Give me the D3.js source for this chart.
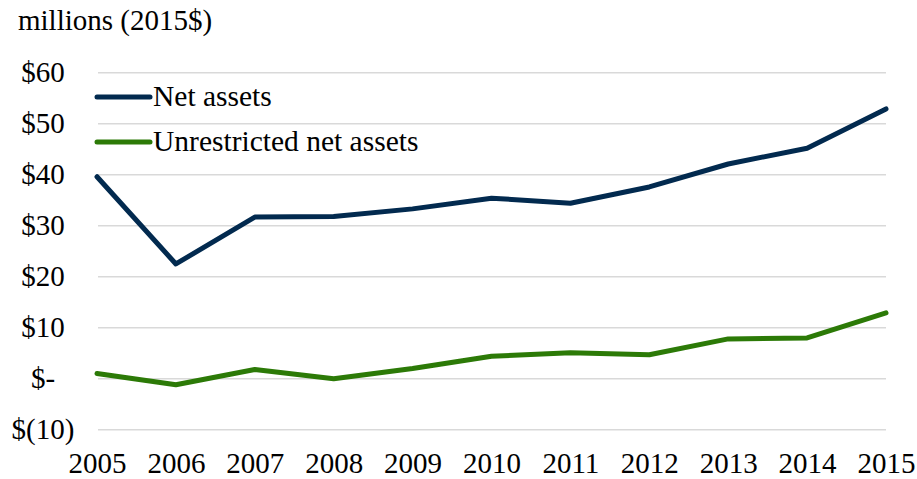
<!DOCTYPE html>
<html>
<head>
<meta charset="utf-8">
<script src="https://cdn.jsdelivr.net/npm/d3@7"></script>
<style>
  html, body { margin: 0; padding: 0; background: #fff; }
  svg { display: block; font-family: "Liberation Serif", "Times New Roman", serif; }
</style>
</head>
<body>
<svg id="chart" width="917" height="479"></svg>
<script>
// Net assets and unrestricted net assets, millions of 2015 dollars
const years = [2005, 2006, 2007, 2008, 2009, 2010, 2011, 2012, 2013, 2014, 2015];
const netAssets = [39.6, 22.5, 31.7, 31.8, 33.3, 35.4, 34.4, 37.6, 42.1, 45.2, 52.9];
const unrestricted = [1.0, -1.2, 1.8, 0.0, 2.0, 4.4, 5.1, 4.7, 7.8, 8.0, 12.9];
const yTicks = [-10, 0, 10, 20, 30, 40, 50, 60];
const seriesNames = ["Net assets", "Unrestricted net assets"];
const seriesColors = ["#022a4f", "#2c7a07"];
const unitLabel = "millions (2015$)";

const svg = d3.select("#chart");
const fontSize = 29;
const legendFontSize = 29.5;

const x = d3.scaleLinear().domain([2005, 2015]).range([97, 886]);
const y = d3.scaleLinear().domain([-10, 60]).range([429.7, 72.7]);

const fmt = v => v === 0 ? "$-" : (v < 0 ? "$(" + Math.abs(v) + ")" : "$" + v);

// horizontal gridlines
svg.append("g")
  .selectAll("line")
  .data(yTicks)
  .join("line")
  .attr("x1", 98).attr("x2", 886)
  .attr("y1", d => y(d)).attr("y2", d => y(d))
  .attr("stroke", "#d9d9d9")
  .attr("stroke-width", 1.5);

// y axis labels
const yAxis = d3.axisLeft(y).tickValues(yTicks).tickFormat(fmt).tickSize(0).tickPadding(0);
svg.append("g")
  .attr("transform", "translate(43,0)")
  .call(yAxis)
  .call(g => g.select(".domain").remove())
  .selectAll("text")
  .attr("text-anchor", "middle")
  .attr("font-family", "Liberation Serif, Times New Roman, serif")
  .attr("font-size", fontSize)
  .attr("fill", "#000");

// x axis labels
const xAxis = d3.axisBottom(x).tickValues(years).tickFormat(d3.format("d")).tickSize(0).tickPadding(0);
svg.append("g")
  .attr("transform", "translate(0,452)")
  .call(xAxis)
  .call(g => g.select(".domain").remove())
  .selectAll("text")
  .attr("dy", "0.72em")
  .attr("font-family", "Liberation Serif, Times New Roman, serif")
  .attr("font-size", fontSize)
  .attr("fill", "#000");

// series lines
const line = d3.line().x((d, i) => x(years[i])).y(d => y(d));
[netAssets, unrestricted].forEach((vals, k) => {
  svg.append("path")
    .datum(vals)
    .attr("d", line)
    .attr("fill", "none")
    .attr("stroke", seriesColors[k])
    .attr("stroke-width", 5)
    .attr("stroke-linejoin", "round")
    .attr("stroke-linecap", "round");
});

// unit label
svg.append("text")
  .attr("x", 18).attr("y", 30)
  .attr("font-size", fontSize)
  .attr("fill", "#000")
  .text(unitLabel);

// legend
const legend = svg.append("g").attr("transform", "translate(97,97)");
seriesNames.forEach((name, k) => {
  const g = legend.append("g").attr("transform", `translate(0,${k * 45})`);
  g.append("line")
    .attr("x1", 0).attr("x2", 53)
    .attr("y1", 0).attr("y2", 0)
    .attr("stroke", seriesColors[k])
    .attr("stroke-width", 5)
    .attr("stroke-linecap", "round");
  g.append("text")
    .attr("x", 56).attr("y", 8.5)
    .attr("font-size", legendFontSize)
    .attr("fill", "#000")
    .text(name);
});
</script>
</body>
</html>
